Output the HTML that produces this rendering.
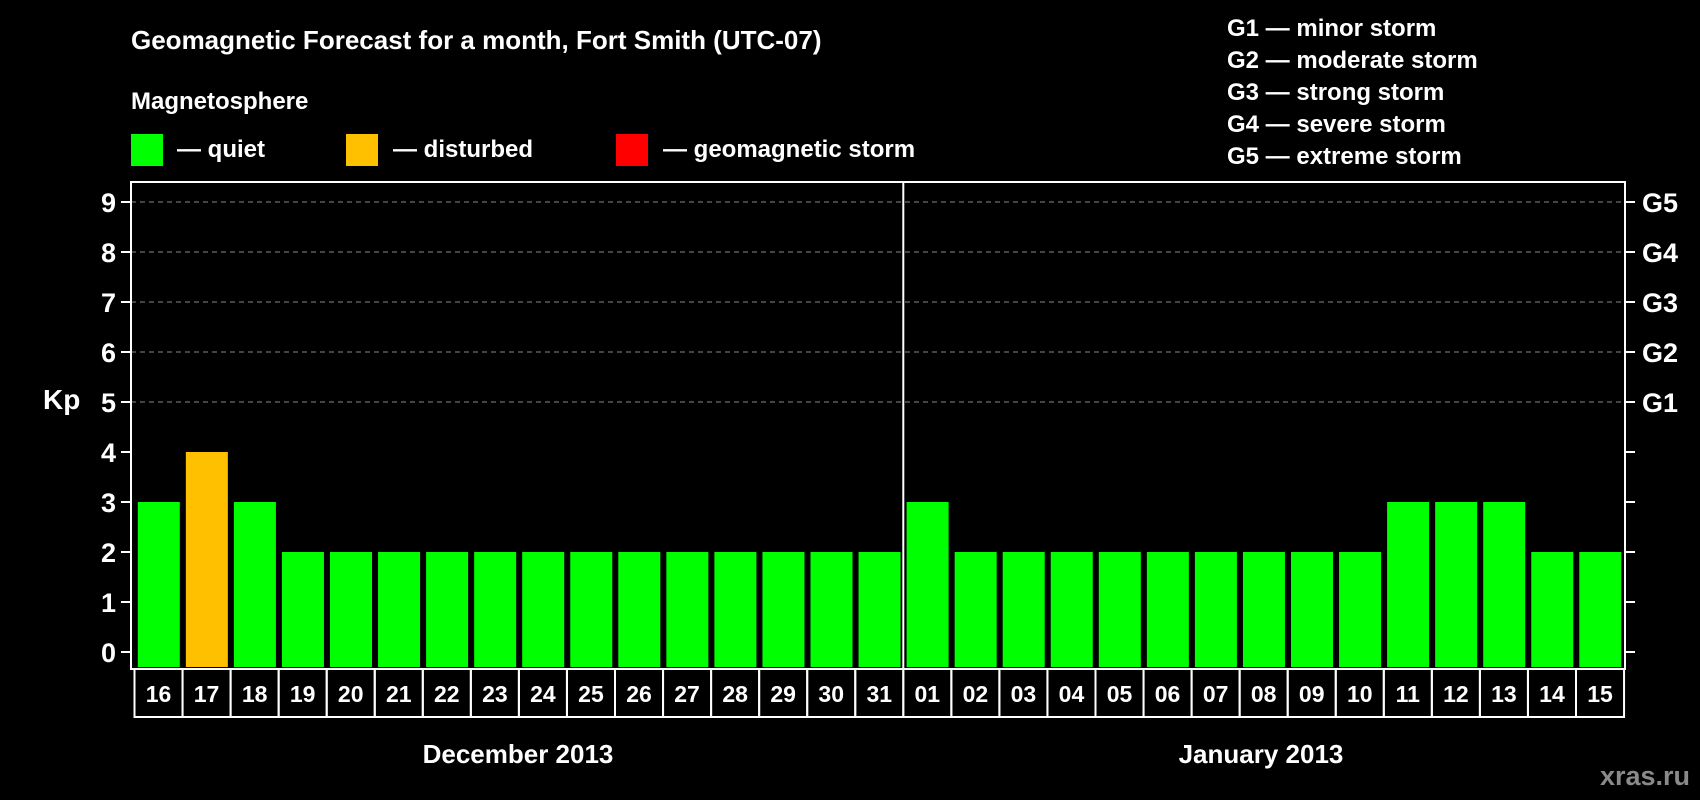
<!DOCTYPE html>
<html><head><meta charset="utf-8"><style>
html,body{margin:0;padding:0;background:#000;}
svg{display:block;font-family:"Liberation Sans",Arial,sans-serif;font-weight:bold;}
</style></head><body>
<svg id="chart" width="1700" height="800" viewBox="0 0 1700 800">
<rect x="0" y="0" width="1700" height="800" fill="#000"/>
<text x="131" y="49" fill="#fff" font-size="26">Geomagnetic Forecast for a month, Fort Smith (UTC-07)</text>
<text x="131" y="109" fill="#fff" font-size="24">Magnetosphere</text>
<g><rect x="131" y="134" width="32" height="32" fill="#00ff00"/><text x="177" y="157" fill="#fff" font-size="24">— quiet</text></g>
<g><rect x="346" y="134" width="32" height="32" fill="#ffc000"/><text x="393" y="157" fill="#fff" font-size="24">— disturbed</text></g>
<g><rect x="616" y="134" width="32" height="32" fill="#ff0000"/><text x="663" y="157" fill="#fff" font-size="24">— geomagnetic storm</text></g>
<g fill="#fff" font-size="24">
<text x="1227" y="36">G1 — minor storm</text>
<text x="1227" y="68">G2 — moderate storm</text>
<text x="1227" y="100">G3 — strong storm</text>
<text x="1227" y="132">G4 — severe storm</text>
<text x="1227" y="164">G5 — extreme storm</text>
</g>
<text x="43" y="409" fill="#fff" font-size="28">Kp</text>
<g id="grid"></g><g id="bars"></g><g id="axes"></g>
<text x="518" y="763" fill="#fff" font-size="26" text-anchor="middle">December 2013</text>
<text x="1261" y="763" fill="#fff" font-size="26" text-anchor="middle">January 2013</text>
<text x="1690" y="785" fill="#8a8a8a" font-size="27" text-anchor="end">xras.ru</text>
</svg>
<script>
const days = ["16","17","18","19","20","21","22","23","24","25","26","27","28","29","30","31","01","02","03","04","05","06","07","08","09","10","11","12","13","14","15"];
const kpValues = [3,4,3,2,2,2,2,2,2,2,2,2,2,2,2,2,3,2,2,2,2,2,2,2,2,2,3,3,3,2,2];
const yTicks = [0,1,2,3,4,5,6,7,8,9];
const gLabels = ["","","","","","G1","G2","G3","G4","G5"];
const NS="http://www.w3.org/2000/svg";
const X0=134.5, SLOT=48.05, Y0=652, UNIT=50, FL=131, FR=1625, FT=182, FB=669;
function yScale(v){return Y0-v*UNIT;}
function xScale(i){return X0+i*SLOT;}
function mk(tag,attrs,parent){const e=document.createElementNS(NS,tag);for(const k in attrs)e.setAttribute(k,attrs[k]);parent.appendChild(e);return e;}
const grid=document.getElementById('grid'),bars=document.getElementById('bars'),axes=document.getElementById('axes');
yTicks.forEach((t,k)=>{
  const y=yScale(t);
  if(t>=5){const g=mk('line',{x1:FL,x2:FR,y1:y,y2:y,stroke:'#888','stroke-dasharray':'5,4','stroke-width':1},grid);
    
    }
  const lt=mk('line',{x1:FL-10,x2:FL,y1:y,y2:y,stroke:'#fff','stroke-width':2},axes);
  
  
  const rt=mk('line',{x1:FR,x2:FR+10,y1:y,y2:y,stroke:'#fff','stroke-width':2},axes);
  
  
  const tl=mk('text',{x:116,y:y+10,fill:'#fff','font-size':27,'text-anchor':'end'},axes);
  tl.textContent=t;
  
  
  if(gLabels[k]){const gl=mk('text',{x:1642,y:y+10,fill:'#fff','font-size':27},axes);
    gl.textContent=gLabels[k];
    
    }
});
kpValues.forEach((v,i)=>{
  const col=v>=5?'#ff0000':(v>=4?'#ffc000':'#00ff00');
  const b=mk('rect',{x:xScale(i)+3.3,y:yScale(v),width:42,height:yScale(0)-yScale(v)+15,fill:col},bars);
  
  
  const bx=mk('rect',{x:xScale(i),y:FB,width:SLOT,height:48,fill:'none',stroke:'#fff','stroke-width':2},axes);
  
  
  const dl=mk('text',{x:xScale(i)+SLOT/2,y:FB+33,fill:'#fff','font-size':23,'text-anchor':'middle'},axes);
  dl.textContent=days[i];
  
  
});
const fr=mk('rect',{x:FL,y:FT,width:FR-FL,height:FB-FT,fill:'none',stroke:'#fff','stroke-width':2},axes);


const div=mk('line',{x1:xScale(16),x2:xScale(16),y1:FT,y2:FB,stroke:'#fff','stroke-width':2},axes);


</script>
</body></html>
